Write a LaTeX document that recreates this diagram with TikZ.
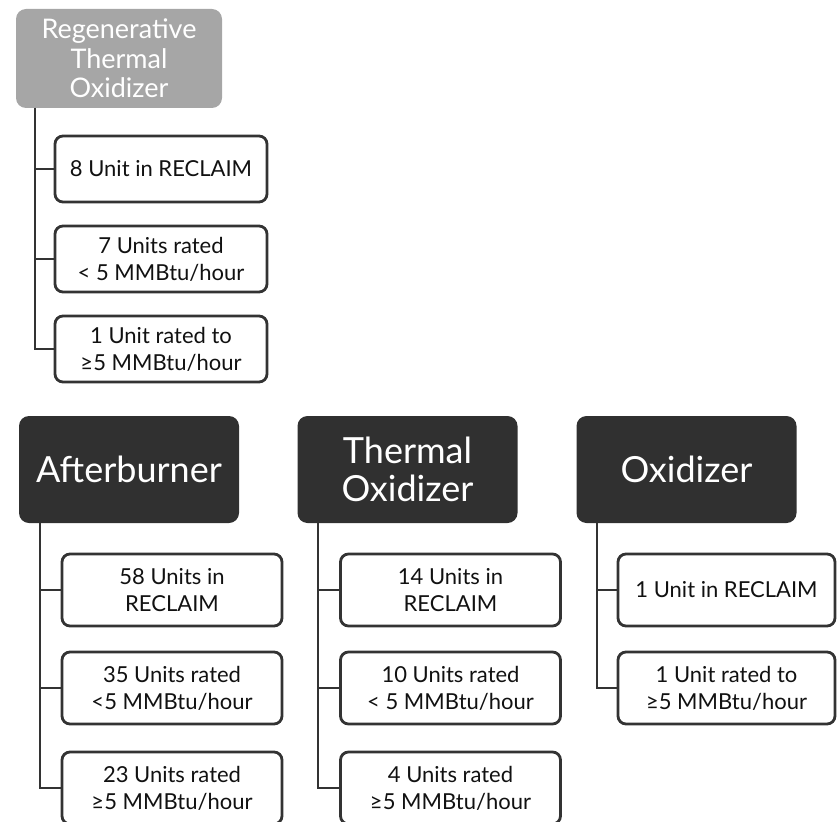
\documentclass[tikz,border=0pt]{standalone}
\usepackage{fontspec}
\setmainfont{Lato}
\definecolor{darkbox}{HTML}{303030}
\definecolor{graybox}{HTML}{A6A6A6}
\definecolor{edge}{HTML}{333333}
\definecolor{txt}{HTML}{111111}
\begin{document}
\begin{tikzpicture}[x=1pt,y=-1pt,
  head/.style={draw=none,rounded corners=10pt,text=white,align=center,inner sep=0pt,
    minimum width=220pt,minimum height=107pt,fill=darkbox,
    font=\fontsize{36}{38}\selectfont},
  rtohead/.style={head,fill=graybox,minimum width=206pt,minimum height=99pt,
    font=\fontsize{27}{29.5}\selectfont},
  item/.style={draw=edge,line width=2.8pt,rounded corners=8pt,fill=white,text=txt,
    align=center,inner sep=0pt,minimum width=220pt,minimum height=72pt,
    font=\fontsize{22}{27}\selectfont},
  rtoitem/.style={item,minimum width=212pt,minimum height=66pt},
  conn/.style={draw=edge,line width=2.8pt}]
\useasboundingbox (0,0) rectangle (837,821);

% Regenerative Thermal Oxidizer
\node[rtohead] (rto) at (119,58.5) {Regenerative\\Thermal\\Oxidizer};
\node[rtoitem] (r1) at (161,169) {8 Unit in RECLAIM};
\node[rtoitem] (r2) at (161,259) {7 Units rated\\< 5 MMBtu/hour};
\node[rtoitem] (r3) at (161,349) {1 Unit rated to\\≥5 MMBtu/hour};
\coordinate (rtoL) at (35,108);
\draw[conn] (rtoL) |- (r3.west);
\draw[conn] (rtoL) |- (r1.west);
\draw[conn] (rtoL) |- (r2.west);

% Afterburner
\node[head] (ab) at (129,469.5) {Afterburner};
\node[item] (a1) at (172,590) {58 Units in\\RECLAIM};
\node[item] (a2) at (172,688) {35 Units rated\\<5 MMBtu/hour};
\node[item] (a3) at (172,788) {23 Units rated\\≥5 MMBtu/hour};
\coordinate (abL) at (40,523);
\draw[conn] (abL) |- (a3.west);
\draw[conn] (abL) |- (a1.west);
\draw[conn] (abL) |- (a2.west);

% Thermal Oxidizer
\node[head] (to) at (407.5,469.5) {Thermal\\Oxidizer};
\node[item] (t1) at (450.5,590) {14 Units in\\RECLAIM};
\node[item] (t2) at (450.5,688) {10 Units rated\\< 5 MMBtu/hour};
\node[item] (t3) at (450.5,788) {4 Units rated\\≥5 MMBtu/hour};
\coordinate (toL) at (318,523);
\draw[conn] (toL) |- (t3.west);
\draw[conn] (toL) |- (t1.west);
\draw[conn] (toL) |- (t2.west);

% Oxidizer
\node[head] (ox) at (686.5,469.5) {Oxidizer};
\node[item,minimum width=217pt] (o1) at (726.5,590) {1 Unit in RECLAIM};
\node[item,minimum width=217pt] (o2) at (726.5,688) {1 Unit rated to\\≥5 MMBtu/hour};
\coordinate (oxL) at (597,523);
\draw[conn] (oxL) |- (o2.west);
\draw[conn] (oxL) |- (o1.west);
\end{tikzpicture}
\end{document}
